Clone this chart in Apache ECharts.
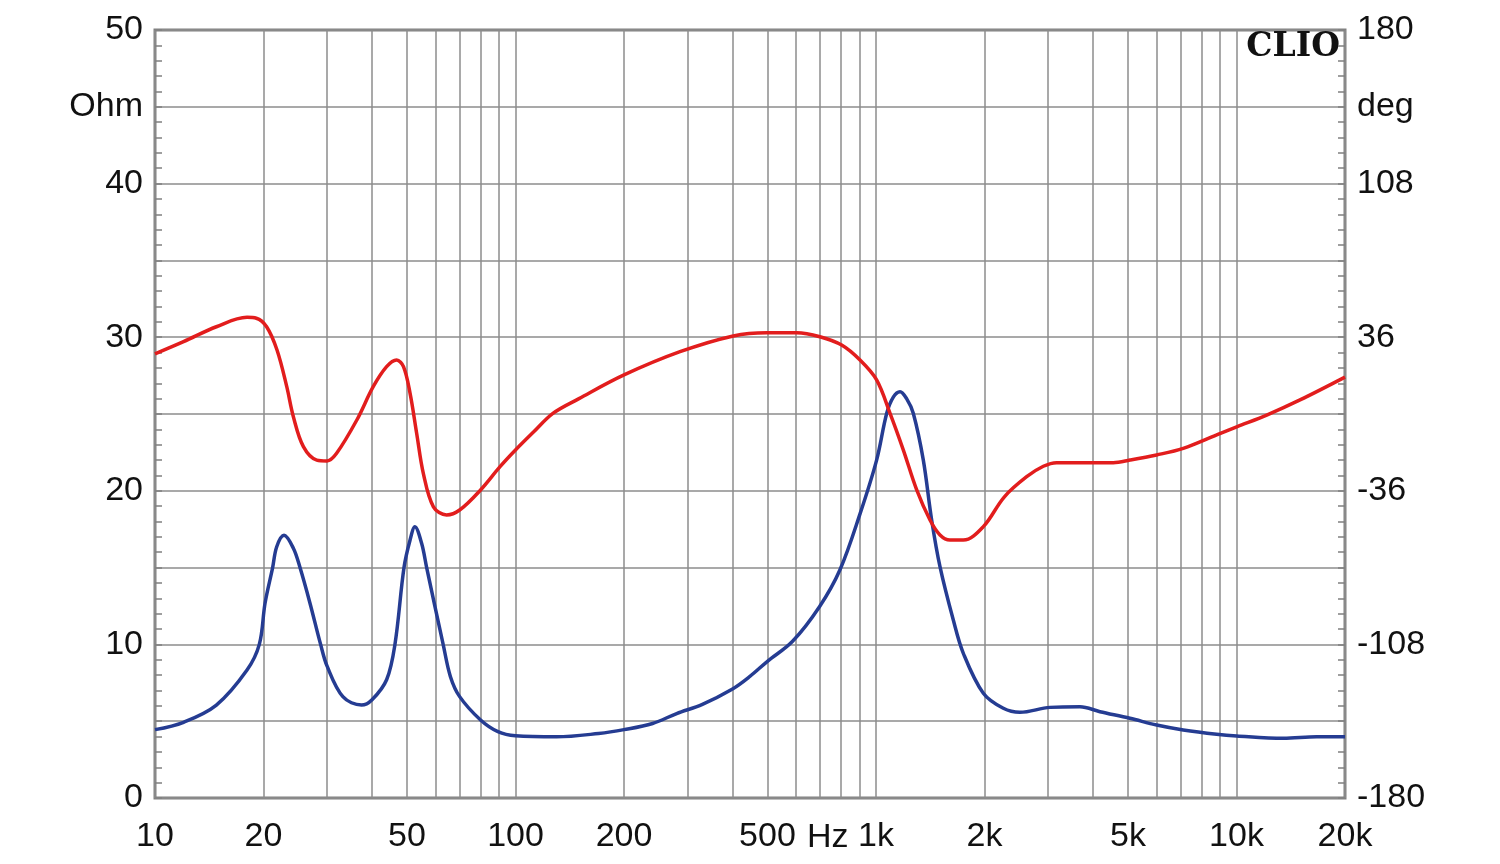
<!DOCTYPE html>
<html>
<head>
<meta charset="utf-8">
<script src="https://cdn.jsdelivr.net/npm/echarts@6/dist/echarts.min.js"></script>
<style>
html,body{margin:0;padding:0;background:#fff;}
#chart{width:1500px;height:864px;}
</style>
</head>
<body>
<div id="chart"></div>
<script>
// Impedance magnitude (Ohm) – blue
const impFreq = [10, 12, 14.8, 18, 19.47, 20.2, 21.2, 21.76, 22.8, 24.2, 25.25, 26.9, 28.8, 30, 33.2, 37.4, 40, 43.9, 46.3, 49.06, 51, 52.6, 54.9, 56.7, 63, 66, 70, 80, 89.4, 100, 130, 170, 200, 240, 280, 330, 400, 446, 500, 587, 697, 794, 903, 1004, 1071, 1117, 1166, 1216, 1269, 1353, 1427, 1505, 1638, 1747, 1985, 2255, 2508, 3038, 3680, 4181, 5064, 6005, 7118, 8811, 10015, 13486, 16695, 20000];
const impOhm  = [4.45, 4.93, 6.05, 8.33, 10.0, 12.7, 15.0, 16.36, 17.1, 16.26, 15.0, 12.7, 10.0, 8.6, 6.6, 6.05, 6.4, 7.7, 10.0, 15.0, 16.8, 17.66, 16.58, 15.0, 10.0, 7.9, 6.6, 5.08, 4.32, 4.05, 3.98, 4.2, 4.45, 4.85, 5.5, 6.1, 7.1, 7.9, 8.9, 10.2, 12.45, 14.84, 18.5, 22.0, 25.05, 26.1, 26.45, 26.0, 25.05, 22.0, 18.1, 15.06, 11.6, 9.42, 6.82, 5.84, 5.58, 5.9, 5.94, 5.62, 5.19, 4.75, 4.43, 4.15, 4.04, 3.89, 3.99, 3.99];

// Impedance phase (deg) – red
const phaseFreq = [10, 12, 14.8, 18, 19.1, 20.4, 21.8, 23.2, 24.2, 25.8, 28.1, 30, 31.9, 36.3, 40.3, 43.9, 46.8, 48.9, 51, 53.2, 55.5, 59.2, 64.4, 70, 80, 90.6, 100, 112, 127, 150, 200, 286, 402, 498, 603, 699, 803, 903, 1004, 1094, 1191, 1297, 1412, 1505, 1604, 1747, 1985, 2271, 2618, 2912, 3171, 4553, 5064, 6005, 7118, 8811, 10015, 12129, 15005, 20000];
const phaseDeg  = [28.2, 33.9, 40.9, 45.3, 44.9, 40.9, 30, 12.8, -1.3, -15.3, -21.6, -22.0, -18.4, -2.8, 12.8, 22.2, 25.3, 22.2, 9.7, -9.1, -27.8, -43.5, -47.3, -45, -35.6, -24.7, -16.9, -8.6, 0.3, 7.2, 18.3, 29.2, 36.6, 38.1, 38.1, 36.2, 32.3, 25.3, 16.0, 0.3, -16.9, -35.6, -49.7, -56.7, -59.1, -59.1, -52.8, -38.8, -29.4, -24.5, -22.8, -22.8, -21.6, -19.2, -16.1, -9.8, -6.0, -0.5, 6.6, 17.3];

// Axis ticks / labels
const freqGrid = [10,20,30,40,50,60,70,80,90,100,200,300,400,500,600,700,800,900,1000,2000,3000,4000,5000,6000,7000,8000,9000,10000,20000];
const freqLabels = [10,20,50,100,200,500,1000,2000,5000,10000,20000];
const ohmLabels = {50:'50',45:'Ohm',40:'40',30:'30',20:'20',10:'10',0:'0'};
const degLabels = {180:'180',144:'deg',108:'108',36:'36','-36':'-36','-108':'-108','-180':'-180'};

const impData = impFreq.map((f,i)=>[f, impOhm[i]]);
const phaseData = phaseFreq.map((f,i)=>[f, phaseDeg[i]]);

const FONT = 'Liberation Sans, Arial, sans-serif';
const FS = 34;
const GRID_COLOR = '#8c8c8c';

const chart = echarts.init(document.getElementById('chart'), null, {renderer:'canvas'});
chart.setOption({
  animation: false,
  backgroundColor: '#fff',
  grid: {left:155, right:155, top:30, bottom:66, show:true, borderColor:'#808080', borderWidth:3, containLabel:false},
  xAxis: {
    type: 'log', logBase: 10, min: 10, max: 20000,
    axisLine: {show:false},
    axisTick: {show:false, customValues: freqGrid},
    splitLine: {show:true, lineStyle:{color:GRID_COLOR, width:1.5}},
    minorTick: {show:false}, minorSplitLine: {show:false},
    axisLabel: {
      customValues: freqLabels,
      fontFamily: FONT, fontSize: FS, color:'#111', margin: 22,
      formatter: v => v >= 1000 ? (v/1000)+'k' : String(v)
    }
  },
  yAxis: [
    {
      type:'value', min:0, max:50, interval:5, position:'left',
      axisLine:{show:false},
      axisTick:{show:true, inside:true, length:7, lineStyle:{color:'#808080', width:1.5}},
      minorTick:{show:true, splitNumber:5, length:7, lineStyle:{color:'#808080', width:1.5}},
      splitLine:{show:true, lineStyle:{color:GRID_COLOR, width:1.5}},
      axisLabel:{fontFamily:FONT, fontSize:FS, color:'#111', margin:12,
        formatter: v => ohmLabels[v] !== undefined ? ohmLabels[v] : ''}
    },
    {
      type:'value', min:-180, max:180, interval:36, position:'right',
      axisLine:{show:false},
      axisTick:{show:true, inside:true, length:7, lineStyle:{color:'#808080', width:1.5}},
      minorTick:{show:true, splitNumber:5, length:7, lineStyle:{color:'#808080', width:1.5}},
      splitLine:{show:false},
      axisLabel:{fontFamily:FONT, fontSize:FS, color:'#111', margin:12,
        formatter: v => { const k = String(Math.round(v)); return degLabels[k] !== undefined ? degLabels[k] : ''; }}
    }
  ],
  graphic: [
    {type:'text', right:160, top:31, style:{text:'CLIO', font:'bold 33px "DejaVu Serif", "Liberation Serif", serif', fill:'#111', textAlign:'right'}},
    {type:'text', left:807, top:821, style:{text:'Hz', font:FS+'px "Liberation Sans", Arial, sans-serif', fill:'#111'}}
  ],
  series: [
    {type:'line', name:'Impedance', yAxisIndex:0, data:impData, showSymbol:false, smooth:0.35,
     lineStyle:{color:'#253c92', width:3.5}, z:3},
    {type:'line', name:'Phase', yAxisIndex:1, data:phaseData, showSymbol:false, smooth:0.35,
     lineStyle:{color:'#e21d1d', width:3.5}, z:4}
  ]
});
</script>
</body>
</html>
